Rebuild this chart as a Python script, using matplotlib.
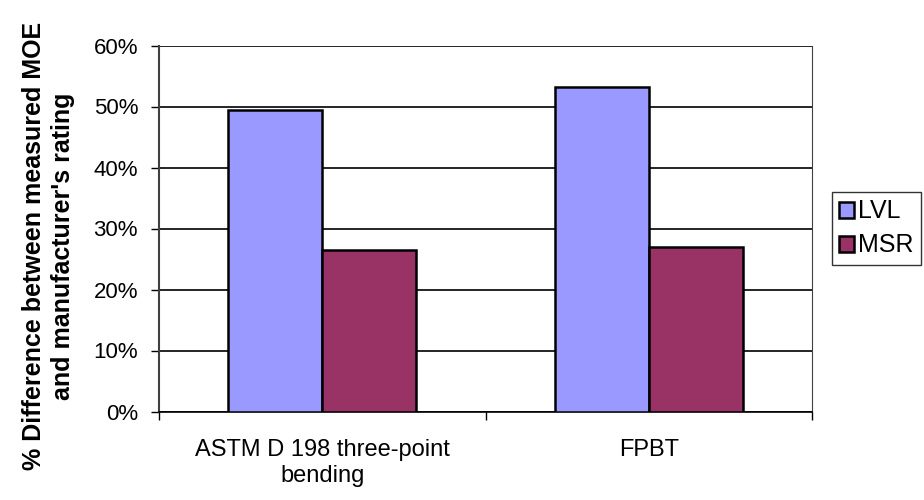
import matplotlib
matplotlib.use('Agg')
import matplotlib.pyplot as plt
import numpy as np
from matplotlib.ticker import PercentFormatter

# data
categories = ['ASTM D 198 three-point\nbending', 'FPBT']
lvl = [49.4, 53.2]
msr = [26.4, 26.9]

plt.rcParams['font.family'] = ['Liberation Sans', 'DejaVu Sans']

fig = plt.figure(figsize=(9.24, 5.0), dpi=100)
ax = fig.add_axes([0.172, 0.177, 0.707, 0.732])

x = np.arange(len(categories))
w = 0.288
ax.bar(x - w / 2, lvl, w, color='#9999FF', edgecolor='black', linewidth=1.8, label='LVL', zorder=3)
ax.bar(x + w / 2, msr, w, color='#993366', edgecolor='black', linewidth=1.8, label='MSR', zorder=3)

ax.set_xlim(-0.5, 1.5)
ax.set_ylim(0, 60)
ax.set_yticks(range(0, 61, 10))
ax.yaxis.set_major_formatter(PercentFormatter(decimals=0))
ax.grid(axis='y', color='black', linewidth=1.2, zorder=0)

# category ticks sit at the boundaries, labels at the centres
ax.set_xticks([-0.5, 0.5, 1.5])
ax.set_xticklabels([])
ax.set_xticks(x, minor=True)
ax.set_xticklabels(categories, minor=True, fontsize=17, linespacing=1.2)
ax.tick_params(axis='x', which='minor', length=0, pad=20)
ax.tick_params(axis='x', which='major', length=6, width=1, direction='out')
ax.tick_params(axis='y', length=6, width=1, labelsize=16, pad=9)

ax.spines['top'].set_visible(False)
ax.spines['left'].set_color('#404040')
ax.spines['left'].set_linewidth(1.5)
ax.spines['right'].set_color('#404040')
ax.spines['bottom'].set_linewidth(1.2)

ax.set_ylabel("% Difference between measured MOE\nand manufacturer's rating",
              fontsize=18, fontweight='bold', linespacing=1.3)
ax.yaxis.set_label_coords(-0.128, 0.452)

leg = ax.legend(loc='center left', bbox_to_anchor=(1.03, 0.5), fontsize=18,
                frameon=True, fancybox=False, edgecolor='black', handlelength=0.6,
                handleheight=0.6, handletextpad=0.15, borderpad=0.3, labelspacing=0.4,
                borderaxespad=0)
leg.get_frame().set_linewidth(1.0)

fig.savefig('out.png', dpi=100)
